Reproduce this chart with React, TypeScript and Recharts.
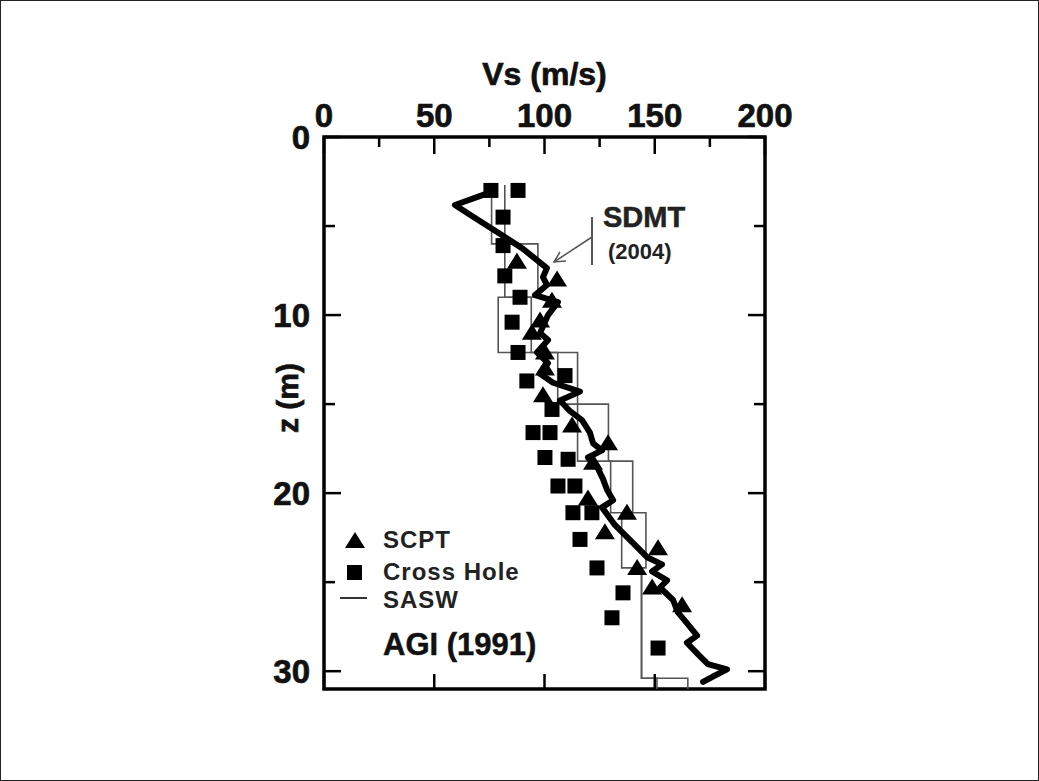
// Vs profile vs depth: SCPT, Cross Hole, SASW (AGI 1991) and SDMT (2004)
import { ScatterChart, Scatter, XAxis, YAxis, ReferenceArea } from 'recharts'

// ─── data: [Vs (m/s), z (m)] ───
const scptPoints: [number, number][] = [
  [87.5, 7.0], [105.7, 8.0], [103.4, 9.2], [98, 10.3], [94.3, 11.0],
  [100.2, 12.1], [100.2, 13.0], [99.3, 14.5], [112.5, 16.2], [128.8, 17.2],
  [122, 18.3], [119.7, 20.3], [137.4, 21.1], [127.4, 22.2], [151.5, 23.1],
  [142, 24.2], [148.8, 25.3], [162.4, 26.3],
]

const crossHolePoints: [number, number][] = [
  [75.7, 3.0], [88, 3.0], [81.2, 4.5], [81.2, 6.1], [82, 7.8], [88.9, 9.0],
  [85.3, 10.4], [88, 12.1], [92, 13.7], [109.3, 13.4], [103.4, 15.3],
  [94.8, 16.6], [102.5, 16.6], [100.2, 18.0], [110.7, 18.1], [106.1, 19.6],
  [113.8, 19.6], [112.9, 21.1], [121.5, 21.1], [116.1, 22.6], [123.8, 24.2],
  [135.6, 25.6], [130.6, 27.0], [151.5, 28.7],
]

// SASW step profiles (two traces)
const saswA: [number, number][] = [
  [82, 2.7], [82, 6.0], [97, 6.0], [97, 9.0], [79, 9.0], [79, 12.1],
  [115, 12.1], [115, 15.0], [129, 15.0], [129, 18.2], [140, 18.2], [140, 21.1],
  [146, 21.1], [146, 24.2], [144, 24.2], [144, 30.4], [165, 30.4], [165, 31],
]
const saswB: [number, number][] = [
  [76, 3.4], [76, 6.0], [82, 6.0], [82, 9.0], [94, 9.0], [94, 12.1],
  [106, 12.1], [106, 15.0], [115, 15.0], [115, 18.2], [130, 18.2], [130, 21.1],
  [135, 21.1], [135, 24.2], [144, 24.2], [144, 30.4], [151, 30.4], [151, 31],
]

const sdmtPoints: [number, number][] = [
  [74.4, 3.15], [59.4, 3.82], [68.5, 4.55], [78.5, 5.34], [89.8, 6.24],
  [101.1, 7.36], [99.3, 7.87], [101.1, 8.31], [95.7, 8.88], [106.1, 9.27],
  [101.6, 10.0], [98.0, 11.0], [101.6, 11.4], [96.6, 12.1], [101.6, 12.7],
  [98.0, 13.3], [103.9, 13.8], [116.1, 14.3], [107.0, 14.8], [111.6, 15.4],
  [117.0, 15.9], [120.6, 16.6], [122.0, 17.2], [126.1, 17.6], [119.7, 18.0],
  [123.8, 18.5], [126.5, 19.2], [128.3, 19.8], [131.1, 20.4], [126.1, 20.8],
  [132.0, 21.8], [140.1, 22.8], [146.5, 23.6], [153.3, 24.0], [148.8, 24.4],
  [155.6, 24.9], [152.4, 25.3], [158.3, 26.0], [160.5, 26.7], [164.6, 27.3],
  [169.2, 28.0], [164.6, 28.4], [169.2, 29.0], [174.1, 29.6], [182.8, 29.9],
  [176.4, 30.3], [171.9, 30.6],
]

const xTicks = [0, 25, 50, 75, 100, 125, 150, 175, 200]
const yTicks = [0, 5, 10, 15, 20, 25, 30]

const toRows = (pts: [number, number][]) => pts.map(([vs, z]) => ({ vs, z }))

// ─── layout ───
const W = 1039
const H = 781
const M = { top: 97, right: 274, bottom: 92, left: 250 }
const X_AXIS_H = 40
const Y_AXIS_W = 74
const PLOT = {
  left: M.left + Y_AXIS_W,
  top: M.top + X_AXIS_H,
  right: W - M.right,
  bottom: H - M.bottom,
}
const FONT = '"Liberation Sans", Arial, Helvetica, sans-serif'
const heavy = { fontFamily: FONT, fontWeight: 'bold' as const, stroke: '#111', strokeWidth: 0.7 }

function XTick(props: any) {
  const { x, y, payload } = props
  const v = payload.value as number
  const major = v % 50 === 0
  const len = major ? 17 : 10
  return (
    <g>
      <line x1={x} x2={x} y1={PLOT.top} y2={PLOT.top + len} stroke="#000" strokeWidth={2.5} />
      {major && (
        <line x1={x} x2={x} y1={PLOT.bottom} y2={PLOT.bottom - 15} stroke="#000" strokeWidth={2.5} />
      )}
      {major && (
        <text x={x} y={y} textAnchor="middle" {...heavy} fontSize={33} fill="#111">
          {v}
        </text>
      )}
    </g>
  )
}

function YTick(props: any) {
  const { x, y, payload } = props
  const v = payload.value as number
  const major = v % 10 === 0
  const len = major ? 17 : 11
  return (
    <g>
      <line x1={PLOT.left} x2={PLOT.left + len} y1={y} y2={y} stroke="#000" strokeWidth={2.5} />
      <line x1={PLOT.right} x2={PLOT.right - len} y1={y} y2={y} stroke="#000" strokeWidth={2.5} />
      {major && (
        <text x={x} y={y} dy={12} textAnchor="end" {...heavy} fontSize={33} fill="#111">
          {v}
        </text>
      )}
    </g>
  )
}

const Triangle = (p: any) => (
  <polygon points={`${p.cx},${p.cy - 9} ${p.cx - 10},${p.cy + 7} ${p.cx + 10},${p.cy + 7}`} fill="#000" />
)
const Square = (p: any) => (
  <rect x={p.cx - 7.5} y={p.cy - 7.5} width={15} height={15} fill="#000" />
)
const NoDot = () => <g />

function YLabel(props: any) {
  const vb = props.viewBox
  const cx = vb.x + vb.width / 2
  const cy = vb.y + vb.height / 2 - 15
  return (
    <text
      x={cx} y={cy} transform={`rotate(-90 ${cx} ${cy})`}
      textAnchor="middle" dominantBaseline="central"
      {...heavy} fontSize={30} fill="#111"
    >
      z (m)
    </text>
  )
}

function XLabel(props: any) {
  const vb = props.viewBox
  return (
    <text x={vb.x + vb.width / 2} y={vb.y - 12} textAnchor="middle" {...heavy} fontSize={32} fill="#111">
      Vs (m/s)
    </text>
  )
}

export default function App() {
  const legendText = { fontFamily: FONT, fontWeight: 'bold' as const, fill: '#222' }
  return (
    <div style={{ position: 'absolute', left: 0, top: 0, width: W, height: H, background: '#fff' }}>
      <ScatterChart width={W} height={H} margin={M}>
        <XAxis
          type="number" dataKey="vs" orientation="top" domain={[0, 200]} ticks={xTicks}
          allowDataOverflow height={X_AXIS_H} axisLine={false} tickLine={false}
          tickSize={0} tickMargin={10} tick={<XTick />} interval={0}
          label={<XLabel />}
        />
        <YAxis
          type="number" dataKey="z" domain={[0, 31]} reversed ticks={yTicks}
          allowDataOverflow width={Y_AXIS_W} axisLine={false} tickLine={false}
          tickSize={0} tickMargin={14} tick={<YTick />} interval={0}
          label={<YLabel />}
        />
        <Scatter data={toRows(saswA)} fill="#555" shape={NoDot} line={{ stroke: '#555', strokeWidth: 1.6 }} isAnimationActive={false} />
        <Scatter data={toRows(saswB)} fill="#555" shape={NoDot} line={{ stroke: '#555', strokeWidth: 1.6 }} isAnimationActive={false} />
        <Scatter data={toRows(crossHolePoints)} fill="#000" shape={Square} isAnimationActive={false} />
        <Scatter data={toRows(scptPoints)} fill="#000" shape={Triangle} isAnimationActive={false} />
        <Scatter
          data={toRows(sdmtPoints)} fill="#000" shape={NoDot}
          line={{ stroke: '#000', strokeWidth: 6, strokeLinejoin: 'round', strokeLinecap: 'round' }}
          isAnimationActive={false}
        />
        <ReferenceArea x1={0} x2={200} y1={0} y2={31} fill="none" fillOpacity={0} stroke="#000" strokeWidth={3.5} ifOverflow="visible" />
      </ScatterChart>

      <svg width={W} height={H} style={{ position: 'absolute', left: 0, top: 0, pointerEvents: 'none' }}>
        <rect x={0.5} y={0.5} width={W - 1} height={H - 1} fill="none" stroke="#222" strokeWidth={1} />

        {/* SDMT annotation */}
        <text x={603} y={227} {...legendText} fontSize={29} stroke="#222" strokeWidth={0.5}>SDMT</text>
        <text x={608} y={259} {...legendText} fontSize={22}>(2004)</text>
        <line x1={592} x2={592} y1={217} y2={265} stroke="#555" strokeWidth={2} />
        <line x1={592} y1={237} x2={554} y2={262} stroke="#555" strokeWidth={1.5} />
        <polyline points="560,252 554,262 566,261" fill="none" stroke="#555" strokeWidth={1.5} />

        {/* legend */}
        <polygon points="355,532 345,548 365,548" fill="#000" />
        <text x={383} y={548} {...legendText} fontSize={24} letterSpacing={1}>SCPT</text>
        <rect x={347} y={565} width={15} height={15} fill="#000" />
        <text x={383} y={580} {...legendText} fontSize={24} letterSpacing={1}>Cross Hole</text>
        <line x1={340} x2={367} y1={598} y2={598} stroke="#333" strokeWidth={2} />
        <text x={383} y={608} {...legendText} fontSize={24} letterSpacing={1}>SASW</text>
        <text x={383} y={655} {...legendText} fontSize={31} fill="#111" stroke="#111" strokeWidth={0.5}>AGI (1991)</text>
      </svg>
    </div>
  )
}
